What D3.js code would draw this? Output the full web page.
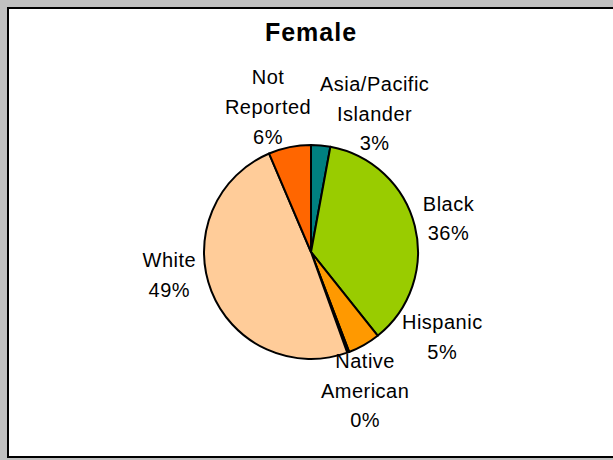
<!DOCTYPE html>
<html>
<head>
<meta charset="utf-8">
<script src="https://cdn.jsdelivr.net/npm/d3@7"></script>
<style>
  html, body { margin: 0; padding: 0; background: #c0c0c0; }
  svg { display: block; }
  text { font-family: "Liberation Sans", Arial, sans-serif; }
</style>
</head>
<body>
<svg id="chart" width="613" height="460"></svg>
<script>
// ---- data ----
const title = "Female";
const categories = ["Asia/Pacific Islander", "Black", "Hispanic", "Native American", "White", "Not Reported"];
const values = [2.9, 36.4, 4.9, 0.3, 49.1, 6.4];
const colors = ["#008080", "#99cc00", "#ff9900", "#000000", "#ffcc99", "#ff6600"];

// ---- layout ----
const W = 613, H = 460;
const cx = 311, cy = 252, radius = 107;
const labelRadius = 150;
const labelNudge = [[50, 11], [-8, 3], [57, -45], [2, -2], [-2, -32], [-13, 2]];
const lineGap = 29.7, capH = 14;

const svg = d3.select("#chart");

svg.append("rect")
  .attr("x", 8).attr("y", 8)
  .attr("width", W + 20).attr("height", 449)
  .attr("fill", "#ffffff")
  .attr("stroke", "#000000")
  .attr("stroke-width", 2);

svg.append("text")
  .attr("x", cx).attr("y", 41)
  .attr("text-anchor", "middle")
  .attr("font-size", 25)
  .attr("font-weight", "bold")
  .attr("letter-spacing", 1)
  .attr("fill", "#000")
  .text(title);

const data = categories.map((c, i) => ({ name: c, value: values[i], color: colors[i], i }));
const pie = d3.pie().value(d => d.value).sort(null);
const arcs = pie(data);
const arc = d3.arc().innerRadius(0).outerRadius(radius);
const labelArc = d3.arc().innerRadius(labelRadius).outerRadius(labelRadius);
const total = d3.sum(values);

const g = svg.append("g").attr("transform", `translate(${cx},${cy})`);

g.selectAll("path")
  .data(arcs)
  .join("path")
  .attr("d", arc)
  .attr("fill", d => d.data.color)
  .attr("stroke", "#000")
  .attr("stroke-width", 2)
  .attr("stroke-linejoin", "round");

arcs.forEach((a, i) => {
  const [lx, ly] = labelArc.centroid(a);
  const x = lx + labelNudge[i][0];
  const y = ly + labelNudge[i][1];
  const lines = a.data.name.split(" ").concat([Math.round(a.data.value / total * 100) + "%"]);
  const first = y - (lines.length - 1) * lineGap / 2 + capH / 2;
  const t = g.append("text")
    .attr("text-anchor", "middle")
    .attr("font-size", 20)
    .attr("letter-spacing", 0.5)
    .attr("fill", "#000");
  lines.forEach((ln, k) => {
    t.append("tspan").attr("x", x).attr("y", first + k * lineGap).text(ln);
  });
});
</script>
</body>
</html>
